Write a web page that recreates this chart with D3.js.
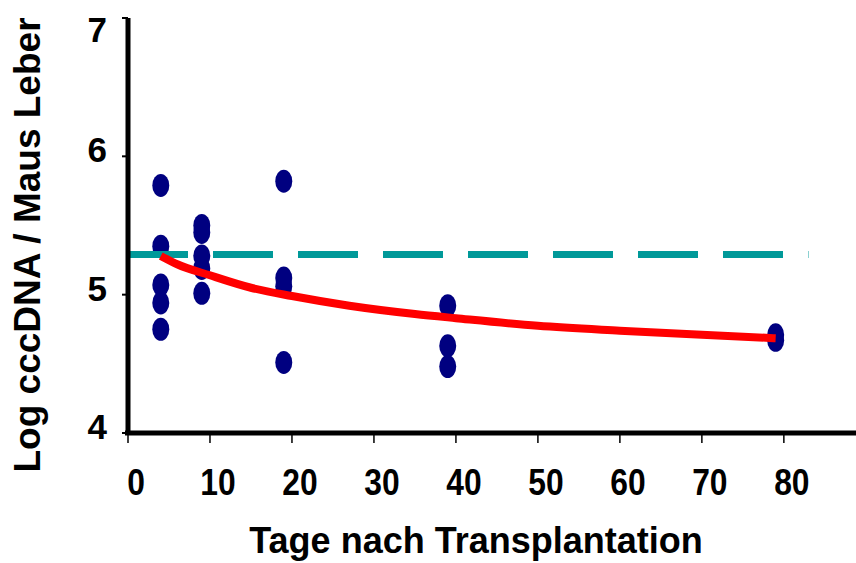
<!DOCTYPE html>
<html>
<head>
<meta charset="utf-8">
<script src="https://cdn.jsdelivr.net/npm/d3@7"></script>
<style>
  html, body { margin: 0; padding: 0; background: #fff; }
  svg { display: block; font-family: "Liberation Sans", Arial, sans-serif; font-weight: bold; }
</style>
</head>
<body>
<div id="chart"></div>
<script>
// measured samples (day, log cccDNA)
const sampleDays = [4, 4, 4, 4, 4, 9, 9, 9, 9, 9, 19, 19, 19, 19, 39, 39, 39, 79, 79];
const sampleValues = [5.79, 5.35, 5.07, 4.94, 4.75, 5.5, 5.45, 5.28, 5.19, 5.01, 5.82, 5.12, 5.06, 4.51, 4.92, 4.63, 4.48, 4.71, 4.67];

// red trend curve
const trendDays = [4, 6, 10, 15, 20, 27, 35, 40, 50, 60, 70, 79];
const trendValues = [5.28, 5.22, 5.14, 5.05, 4.99, 4.92, 4.86, 4.83, 4.775, 4.74, 4.71, 4.685];

// dashed reference level
const refLevel = 5.29;
const refDays = [0, 83];

const xTicks = [0, 10, 20, 30, 40, 50, 60, 70, 80];
const yTicks = [4, 5, 6, 7];

const width = 856, height = 563;

const svg = d3.select('#chart').append('svg')
  .attr('width', width)
  .attr('height', height);

const x = d3.scaleLinear().domain([0, 88.8]).range([128, 856]);
const y = d3.scaleLinear().domain([4, 7]).range([433, 18]);

// dots
svg.append('g')
  .selectAll('ellipse')
  .data(sampleDays.map((d, i) => ({ day: d, v: sampleValues[i] })))
  .join('ellipse')
  .attr('cx', d => x(d.day))
  .attr('cy', d => y(d.v))
  .attr('rx', 8.5)
  .attr('ry', 11.5)
  .attr('fill', '#000080');

// dashed reference
svg.append('line')
  .attr('x1', x(refDays[0]))
  .attr('x2', x(refDays[1]))
  .attr('y1', y(refLevel))
  .attr('y2', y(refLevel))
  .attr('stroke', '#009999')
  .attr('stroke-width', 7)
  .attr('stroke-dasharray', '60,25');

// trend
const line = d3.line()
  .x(d => x(d[0]))
  .y(d => y(d[1]))
  .curve(d3.curveMonotoneX);

svg.append('path')
  .datum(trendDays.map((d, i) => [d, trendValues[i]]))
  .attr('d', line)
  .attr('fill', 'none')
  .attr('stroke', '#ff0000')
  .attr('stroke-width', 8);

// x axis
const xAxis = svg.append('g').attr('transform', `translate(0,${y(4)})`);
xAxis.append('line')
  .attr('x1', x(0) - 3).attr('x2', width)
  .attr('stroke', '#000').attr('stroke-width', 5);
xAxis.selectAll('.tick')
  .data(xTicks)
  .join('line')
  .attr('x1', d => x(d)).attr('x2', d => x(d))
  .attr('y1', 0).attr('y2', 10)
  .attr('stroke', '#000').attr('stroke-width', 1.5);
xAxis.selectAll('text')
  .data(xTicks)
  .join('text')
  .attr('transform', d => `translate(${x(d) + 8},62) scale(0.86,1)`)
  .attr('text-anchor', 'middle')
  .attr('font-size', 37)
  .text(d => d);

// y axis
const yAxis = svg.append('g').attr('transform', `translate(${x(0)},0)`);
yAxis.append('line')
  .attr('y1', y(7)).attr('y2', y(4) + 2)
  .attr('stroke', '#000').attr('stroke-width', 5);
yAxis.selectAll('.tick')
  .data(yTicks)
  .join('line')
  .attr('x1', -6).attr('x2', 0)
  .attr('y1', d => y(d)).attr('y2', d => y(d))
  .attr('stroke', '#000').attr('stroke-width', 2);
yAxis.selectAll('text')
  .data(yTicks)
  .join('text')
  .attr('x', -21)
  .attr('y', d => Math.max(y(d) + 6, 42))
  .attr('text-anchor', 'end')
  .attr('font-size', 35)
  .text(d => d);

// titles
svg.append('text')
  .attr('x', 476)
  .attr('y', 553)
  .attr('text-anchor', 'middle')
  .attr('font-size', 36)
  .text('Tage nach Transplantation');

svg.append('text')
  .attr('transform', 'translate(40,245) rotate(-90)')
  .attr('text-anchor', 'middle')
  .attr('font-size', 37)
  .text('Log cccDNA / Maus Leber');
</script>
</body>
</html>
